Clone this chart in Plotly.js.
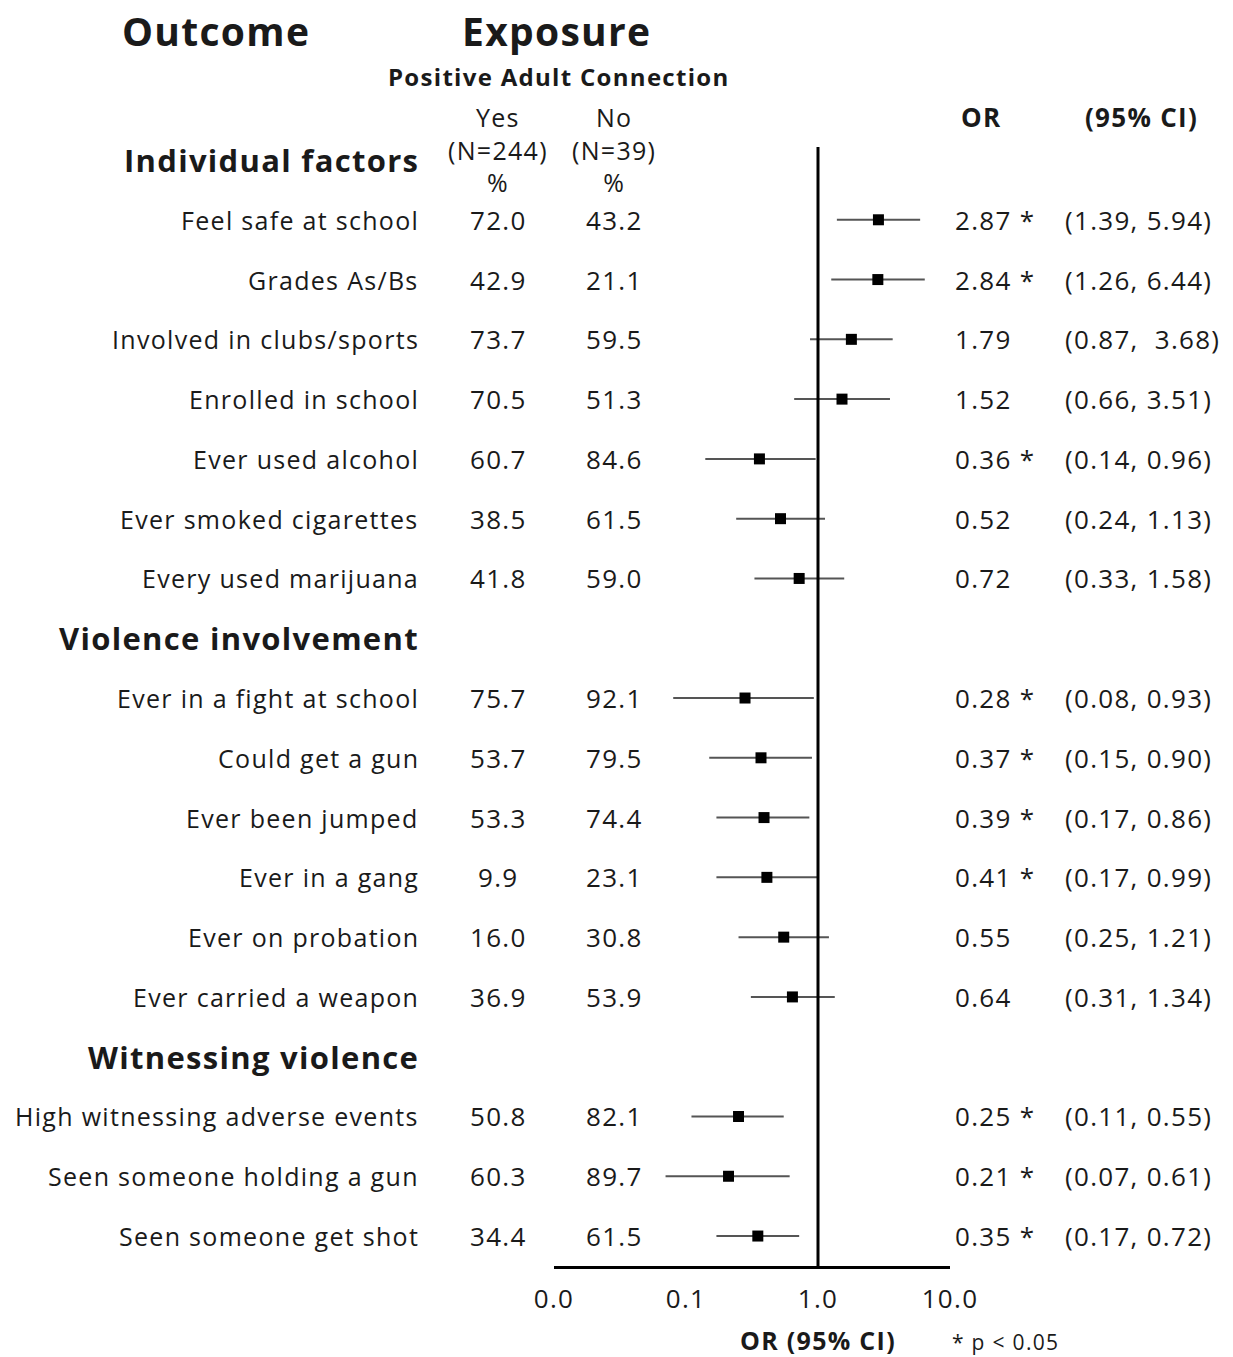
<!DOCTYPE html>
<html>
<head>
<meta charset="utf-8">
<script src="https://cdn.plot.ly/plotly-3.0.1.min.js"></script>
<style>
html,body{margin:0;padding:0;background:#fff;}
#chart{width:1233px;height:1357px;}
/* the reference glyphs are set wider than any installed face; widen with tracking */
text.annotation-text, .xtick text { letter-spacing: 1.3px; }
</style>
</head>
<body>
<div id="chart"></div>
<script>
// ---------------- data ----------------
var groups = ['Individual factors', 'Violence involvement', 'Witnessing violence'];
var outcomes = ['Feel safe at school', 'Grades As/Bs', 'Involved in clubs/sports', 'Enrolled in school',
  'Ever used alcohol', 'Ever smoked cigarettes', 'Every used marijuana',
  'Ever in a fight at school', 'Could get a gun', 'Ever been jumped', 'Ever in a gang',
  'Ever on probation', 'Ever carried a weapon',
  'High witnessing adverse events', 'Seen someone holding a gun', 'Seen someone get shot'];
var groupOf = [0, 0, 0, 0, 0, 0, 0, 1, 1, 1, 1, 1, 1, 2, 2, 2];
var pctYes = [72.0, 42.9, 73.7, 70.5, 60.7, 38.5, 41.8, 75.7, 53.7, 53.3, 9.9, 16.0, 36.9, 50.8, 60.3, 34.4];
var pctNo = [43.2, 21.1, 59.5, 51.3, 84.6, 61.5, 59.0, 92.1, 79.5, 74.4, 23.1, 30.8, 53.9, 82.1, 89.7, 61.5];
var oddsRatio = [2.87, 2.84, 1.79, 1.52, 0.36, 0.52, 0.72, 0.28, 0.37, 0.39, 0.41, 0.55, 0.64, 0.25, 0.21, 0.35];
var ciLow = [1.39, 1.26, 0.87, 0.66, 0.14, 0.24, 0.33, 0.08, 0.15, 0.17, 0.17, 0.25, 0.31, 0.11, 0.07, 0.17];
var ciHigh = [5.94, 6.44, 3.68, 3.51, 0.96, 1.13, 1.58, 0.93, 0.90, 0.86, 0.99, 1.21, 1.34, 0.55, 0.61, 0.72];
var significant = [1, 1, 0, 0, 1, 0, 0, 1, 1, 1, 1, 0, 0, 1, 1, 1];
var exposureCols = ['Yes', 'No'];
var exposureN = [244, 39];
var tickValues = [0.01, 0.1, 1, 10];
var tickLabels = ['0.0', '0.1', '1.0', '10.0'];

// ---------------- layout helpers ----------------
var W = 1233, H = 1357;
var L = 554, R = 283, T = 0, B = 91;
var PW = W - L - R, PH = H - T - B;
var ROW0 = 160, STEP = 59.78;           // pixel centre of row 0 and row spacing
function rowOf(py) { return (py - ROW0) / STEP; }
function px(xp) { return (xp - L) / PW; }
var FONT = '"Open Sans", Lato, sans-serif';
var TXT = '#1a1a1a';
var S_LBL = 25, S_NUM = 26, S_HEAD = 31, S_TOP = 39, S_SUB = 24;

// assign row indices: header then items per group
var itemRow = [], headerRow = [];
var r = 0;
for (var g = 0; g < groups.length; g++) {
  headerRow.push(r); r++;
  for (var i = 0; i < outcomes.length; i++) {
    if (groupOf[i] === g) { itemRow[i] = r; r++; }
  }
}

var ann = [];
function A(text, xp, y, anchor, size, bold, extra) {
  var a = {text: bold ? '<b>' + text + '</b>' : text, xref: 'paper', x: px(xp), yref: 'y', y: y,
    xanchor: anchor, yanchor: 'middle', showarrow: false,
    font: {family: FONT, size: size, color: TXT}};
  if (extra) for (var k in extra) a[k] = extra[k];
  ann.push(a);
}
// top headers
A('Outcome', 216, rowOf(30), 'center', S_TOP, true);
A('Exposure', 556, rowOf(30), 'center', S_TOP, true);
A('Positive Adult Connection', 559, rowOf(76), 'center', S_SUB, true);
var colX = [498, 614];
for (var c = 0; c < exposureCols.length; c++) {
  A(exposureCols[c] + '<br>(N=' + exposureN[c] + ')<br>%', colX[c], rowOf(149), 'center', 25, false);
}
A('OR', 981, rowOf(117), 'center', S_NUM, true);
A('(95% CI)', 1141, rowOf(117), 'center', S_NUM, true);

for (var g2 = 0; g2 < groups.length; g2++) {
  A(groups[g2], 421, headerRow[g2], 'right', S_HEAD, true);
}
for (var j = 0; j < outcomes.length; j++) {
  var y = itemRow[j];
  A(outcomes[j], 421, y, 'right', S_LBL, false);
  A(pctYes[j].toFixed(1), colX[0], y, 'center', S_NUM, false);
  A(pctNo[j].toFixed(1), colX[1], y, 'center', S_NUM, false);
  A(oddsRatio[j].toFixed(2) + (significant[j] ? ' *' : ''), 953, y, 'left', S_NUM, false);
  var ciTxt = '(' + ciLow[j].toFixed(2) + ',' + (ciHigh[j] >= 1 && ciLow[j] >= 0.8 && ciLow[j] < 1 ? '\u00a0 ' : ' ') + ciHigh[j].toFixed(2) + ')';
  A(ciTxt, 1063, y, 'left', S_NUM, false);
}
// x-axis title, centred on OR = 1 as in the reference
ann.push({text: '<b>OR (95% CI)</b>', xref: 'x', x: 0, yref: 'paper', y: (H - B - 1340) / PH,
  xanchor: 'center', yanchor: 'middle', showarrow: false,
  font: {family: FONT, size: 25, color: TXT}});
A('* p < 0.05', 1005, 0, 'center', 21, false, {yref: 'paper', y: (H - B - 1342) / PH});

var trace = {
  type: 'scatter', mode: 'markers',
  x: oddsRatio, y: itemRow,
  marker: {symbol: 'square', size: 11, color: '#000'},
  error_x: {type: 'data', symmetric: false,
    array: oddsRatio.map(function (v, k) { return ciHigh[k] - v; }),
    arrayminus: oddsRatio.map(function (v, k) { return v - ciLow[k]; }),
    width: 0, thickness: 2, color: '#555'},
  hoverinfo: 'skip', showlegend: false, cliponaxis: false
};

var layout = {
  width: W, height: H,
  margin: {l: L, r: R, t: T, b: B, pad: 0},
  paper_bgcolor: '#fff', plot_bgcolor: '#fff',
  showlegend: false,
  xaxis: {type: 'log', range: [-2, 1], tickvals: tickValues, ticktext: tickLabels,
    ticks: '', showgrid: false, zeroline: false, showline: true, linecolor: '#000', linewidth: 3,
    ticklabelstandoff: 8,
    tickfont: {family: FONT, size: S_NUM, color: TXT},
    fixedrange: true},
  yaxis: {range: [rowOf(H - B), rowOf(0)], showgrid: false, zeroline: false, showline: false,
    showticklabels: false, ticks: '', fixedrange: true},
  shapes: [{type: 'line', xref: 'x', yref: 'y', x0: 1, x1: 1, y0: rowOf(147), y1: rowOf(H - B),
    line: {color: '#000', width: 3}}],
  annotations: ann
};

Plotly.newPlot('chart', [trace], layout, {displayModeBar: false, staticPlot: true});
</script>
</body>
</html>
